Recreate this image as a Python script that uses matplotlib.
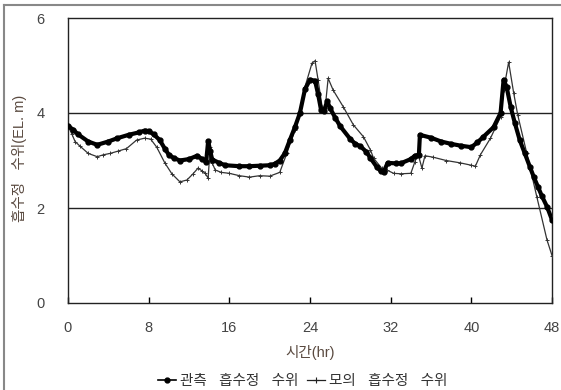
import matplotlib
matplotlib.use("Agg")
import matplotlib.pyplot as plt
from matplotlib.lines import Line2D

plt.rcParams['font.family'] = ['Liberation Sans', 'Noto Sans CJK KR', 'DejaVu Sans']

# Observed pump-well water level (EL. m) vs time (hr)
obs_t = [0, 0.5, 1.0, 2.0, 2.9, 4.0, 4.9, 6.0, 7.0, 7.6, 8.0, 8.5, 9.1, 9.6, 10.0,
         10.5, 11.1, 12.0, 12.8, 13.3, 13.7, 13.9, 14.1, 14.3, 15.0, 15.6, 17.0,
         18.0, 19.0, 20.0, 20.5, 21.0, 21.5, 22.0, 22.5, 23.0, 23.5, 24.0, 24.5,
         24.8, 25.1, 25.4, 25.7, 26.0, 26.5, 27.0, 28.0, 28.5, 29.0, 29.6, 30.0,
         30.6, 31.0, 31.3, 31.7, 32.5, 33.0, 34.0, 34.4, 34.8, 34.9, 36.0, 37.0,
         38.0, 39.0, 40.0, 40.6, 41.2, 42.2, 42.9, 43.2, 43.5, 43.9, 44.3, 44.8,
         45.3, 45.8, 46.2, 46.6, 47.0, 47.5, 48.0]
obs_v = [3.73, 3.65, 3.55, 3.40, 3.33, 3.40, 3.47, 3.54, 3.59, 3.63, 3.62, 3.55,
         3.43, 3.25, 3.12, 3.05, 3.00, 3.03, 3.10, 3.03, 2.97, 3.41, 3.20, 3.02,
         2.95, 2.90, 2.88, 2.88, 2.89, 2.90, 2.93, 3.00, 3.15, 3.43, 3.70, 4.00,
         4.50, 4.70, 4.68, 4.40, 4.06, 4.05, 4.25, 4.10, 3.90, 3.72, 3.45, 3.35,
         3.30, 3.18, 3.05, 2.87, 2.78, 2.76, 2.95, 2.94, 2.94, 3.03, 3.10, 3.12,
         3.54, 3.48, 3.40, 3.35, 3.31, 3.28, 3.38, 3.50, 3.70, 4.00, 4.70, 4.55,
         4.13, 3.80, 3.43, 3.15, 2.87, 2.65, 2.45, 2.25, 2.03, 1.75]

# Simulated pump-well water level (EL. m) vs time (hr)
mod_t = [0, 0.4, 0.7, 1.2, 2.0, 2.9, 3.5, 4.2, 5.0, 5.8, 6.8, 7.6, 8.2, 8.8, 9.6,
         10.3, 11.1, 11.8, 12.4, 12.9, 13.3, 13.6, 13.9, 14.1, 14.3, 14.6, 15.2,
         16.0, 17.0, 18.0, 19.0, 20.0, 21.0, 21.7, 22.5, 23.0, 23.5, 24.2, 24.5,
         24.8, 25.2, 25.5, 25.8, 26.3, 27.3, 28.3, 29.3, 30.0, 30.3, 31.1, 31.6,
         32.3, 33.0, 34.0, 34.4, 34.7, 35.1, 35.4, 36.2, 37.5, 38.9, 40.0, 40.4,
         40.9, 41.9, 42.9, 43.2, 43.7, 44.2, 44.6, 45.5, 46.5, 47.5, 48.0]
mod_v = [3.73, 3.55, 3.40, 3.30, 3.15, 3.08, 3.12, 3.15, 3.20, 3.25, 3.43, 3.47,
         3.45, 3.28, 2.95, 2.72, 2.55, 2.59, 2.72, 2.84, 2.78, 2.73, 2.63, 3.29,
         2.95, 2.80, 2.75, 2.73, 2.68, 2.65, 2.68, 2.67, 2.75, 3.15, 3.64, 4.00,
         4.55, 5.05, 5.10, 4.70, 4.13, 4.10, 4.73, 4.48, 4.13, 3.75, 3.50, 3.22,
         3.05, 2.84, 2.80, 2.73, 2.72, 2.73, 2.97, 3.15, 2.84, 3.10, 3.07, 3.00,
         2.95, 2.90, 2.88, 3.12, 3.47, 3.92, 4.48, 5.07, 4.42, 3.96, 3.15, 2.23,
         1.33, 1.00]

x_ticks = [0, 8, 16, 24, 32, 40, 48]
y_ticks = [0, 2, 4, 6]

obs_label = '관측   흡수정   수위'
mod_label = '모의   흡수정   수위'
x_title = '시간(hr)'
y_title = '흡수정   수위(EL. m)'

W, H = 561, 390
fig = plt.figure(figsize=(W / 100, H / 100), dpi=100)
ax = fig.add_axes([68 / W, 1 - 303 / H, (552 - 68) / W, (303 - 18) / H])

# horizontal reference lines
for yv in (2, 4):
    ax.axhline(yv, color='#222222', lw=1.0, zorder=1)

ax.plot(mod_t, mod_v, color='#333333', lw=0.9, marker='+', ms=3.5, mew=0.7,
        zorder=3, label=mod_label)
ax.plot(obs_t, obs_v, color='black', lw=3.0, marker='o', ms=3.5,
        zorder=4, label=obs_label, solid_joinstyle='round')

ax.set_xlim(0, 48)
ax.set_ylim(0, 6)
ax.set_xticks(x_ticks)
ax.set_yticks(y_ticks)
ax.tick_params(axis='x', direction='in', length=4, width=1, pad=13,
               labelsize=10.5, labelcolor='#444444', top=False)
ax.tick_params(axis='y', length=0, pad=17, labelsize=10.5, labelcolor='#444444')
for s in ax.spines.values():
    s.set_color('#222222')
    s.set_linewidth(1.0)

fig.text(20 / W, 1 - 158 / H, y_title, rotation=90, ha='center', va='center',
         fontsize=10.5, color='#5a4a40')
fig.text(310 / W, 1 - 353 / H, x_title, ha='center', va='center',
         fontsize=10.5, color='#5a4a40')

handles = [Line2D([], [], color='black', lw=1.2, marker='o', ms=3.5),
           Line2D([], [], color='#222222', lw=0.9, marker='+', ms=4, mew=0.8)]
leg = fig.legend(handles, [obs_label, mod_label], loc='center',
                 bbox_to_anchor=(303 / W, 1 - 381 / H), ncol=2, frameon=False,
                 fontsize=10.5, handlelength=1.2, handletextpad=0.3,
                 columnspacing=0.6, borderaxespad=0)
for t in leg.get_texts():
    t.set_color('#333333')

# outer frame
fig.add_artist(Line2D([4 / W, 4 / W], [0, 1 - 5 / H], transform=fig.transFigure,
                      color='#888888', lw=1.5))
fig.add_artist(Line2D([4 / W, 1], [1 - 5 / H, 1 - 5 / H], transform=fig.transFigure,
                      color='#888888', lw=1.5))

fig.savefig('out.png', dpi=100)
